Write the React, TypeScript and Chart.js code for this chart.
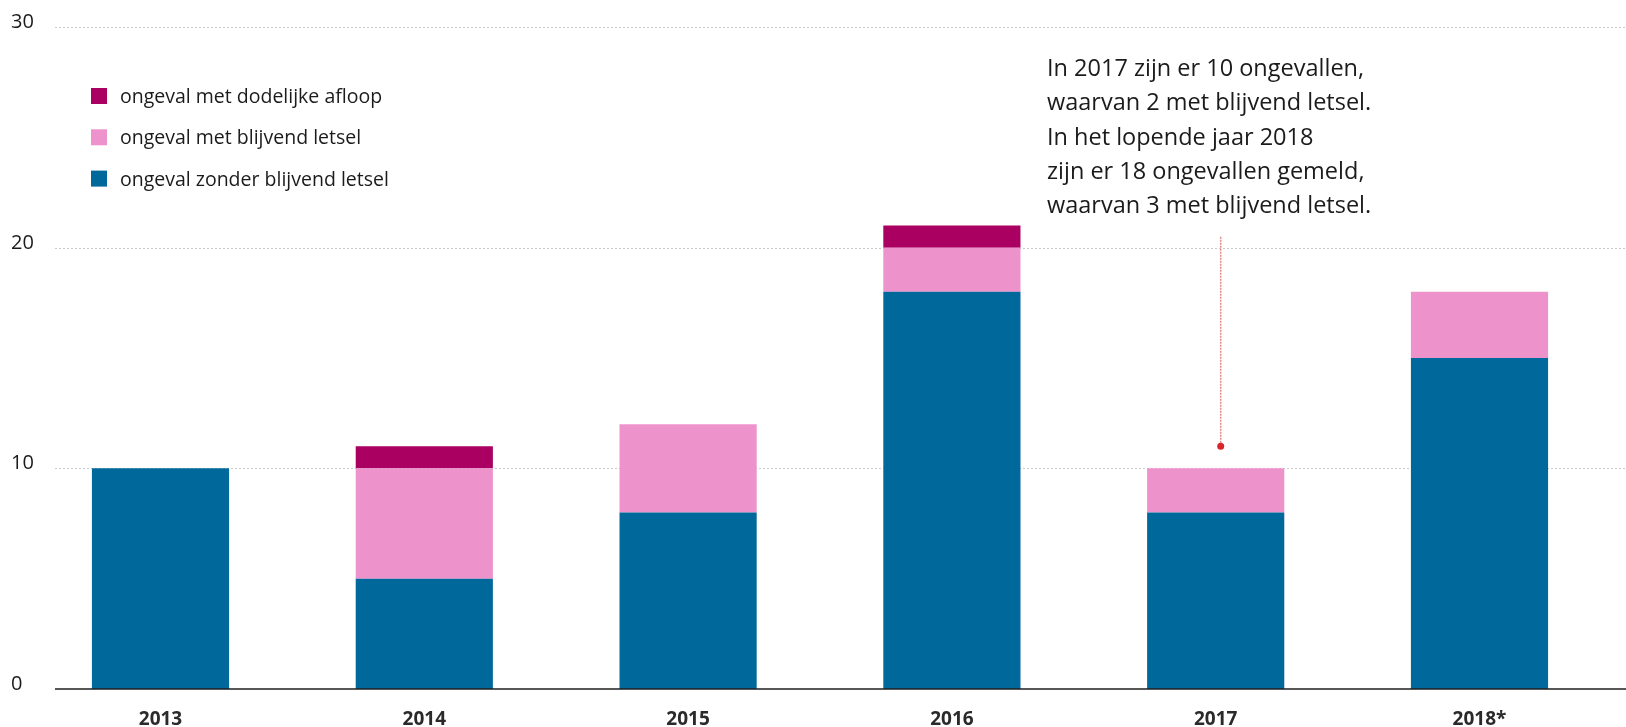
import { useEffect, useRef } from "react";
import { Chart, registerables } from "chart.js";

Chart.register(...registerables);

// ---- Data ----
const years = ["2013", "2014", "2015", "2016", "2017", "2018*"];
const zonderLetsel = [10, 5, 8, 18, 8, 15];
const blijvendLetsel = [0, 5, 4, 2, 2, 3];
const dodelijk = [0, 1, 0, 1, 0, 0];
const yTicks = [0, 10, 20, 30];
const seriesLabels = [
  "ongeval zonder blijvend letsel",
  "ongeval met blijvend letsel",
  "ongeval met dodelijke afloop",
];
const annotationLines = [
  "In 2017 zijn er 10 ongevallen,",
  "waarvan 2 met blijvend letsel.",
  "In het lopende jaar 2018",
  "zijn er 18 ongevallen gemeld,",
  "waarvan 3 met blijvend letsel.",
];
const annotationCategory = "2017";
const annotationFromValue = 11;
const annotationToValue = 20.5;

// ---- Styles ----
const BLUE = "#01689B";
const PINK = "#EE92CB";
const MAGENTA = "#A90061";
const FONT = "'Open Sans', 'Noto Sans', sans-serif";
const TEXT = "#1b1b1b";

const W = 1626;
const H = 727;

const drawPlugin = {
  id: "customDecor",
  beforeDatasetsDraw(chart: any) {
    const ctx = chart.ctx;
    const y = chart.scales.y;
    ctx.save();
    ctx.strokeStyle = "#c9c9c9";
    ctx.lineWidth = 1;
    ctx.setLineDash([2, 2]);
    for (const v of yTicks) {
      if (v === 0) continue;
      const py = Math.round(y.getPixelForValue(v)) + 0.5;
      ctx.beginPath();
      ctx.moveTo(55, py);
      ctx.lineTo(W, py);
      ctx.stroke();
    }
    ctx.restore();
  },
  afterDatasetsDraw(chart: any) {
    const ctx = chart.ctx;
    const x = chart.scales.x;
    const y = chart.scales.y;
    ctx.save();
    // baseline
    const by = y.getPixelForValue(0);
    ctx.strokeStyle = "#1e1e1e";
    ctx.lineWidth = 1.5;
    ctx.beginPath();
    ctx.moveTo(55, by);
    ctx.lineTo(W, by);
    ctx.stroke();

    // y labels
    ctx.fillStyle = TEXT;
    ctx.font = `20px ${FONT}`;
    ctx.textAlign = "left";
    ctx.textBaseline = "alphabetic";
    for (const v of yTicks) {
      ctx.fillText(String(v), 11, y.getPixelForValue(v) + 1);
    }

    // x labels
    ctx.font = `bold 19px ${FONT}`;
    ctx.fillStyle = "#2a2a2a";
    ctx.textAlign = "center";
    years.forEach((label, i) => {
      ctx.fillText(label, x.getPixelForValue(i), by + 36);
    });

    // legend
    const ds = chart.data.datasets;
    ctx.font = `19.5px ${FONT}`;
    ctx.textAlign = "left";
    ctx.fillStyle = TEXT;
    for (let k = 0; k < ds.length; k++) {
      const d = ds[ds.length - 1 - k];
      const top = 88 + k * 41.3;
      ctx.fillStyle = d.backgroundColor;
      ctx.fillRect(91, top, 16, 16);
      ctx.fillStyle = TEXT;
      ctx.fillText(d.label, 120, top + 15);
    }

    // annotation text
    ctx.font = `23.5px ${FONT}`;
    annotationLines.forEach((line, i) => {
      ctx.fillText(line, 1047, 76 + i * 34.3);
    });

    // annotation pointer
    const ai = years.indexOf(annotationCategory);
    const ax = x.getPixelForValue(ai) + 5;
    const yTop = y.getPixelForValue(annotationToValue);
    const yBot = y.getPixelForValue(annotationFromValue);
    ctx.strokeStyle = "#e58a8c";
    ctx.lineWidth = 1.5;
    ctx.setLineDash([2, 1]);
    ctx.beginPath();
    ctx.moveTo(ax, yTop);
    ctx.lineTo(ax, yBot);
    ctx.stroke();
    ctx.setLineDash([]);
    ctx.fillStyle = "#d9252c";
    ctx.beginPath();
    ctx.arc(ax, yBot, 3.5, 0, Math.PI * 2);
    ctx.fill();
    ctx.restore();
  },
};

export default function App() {
  const ref = useRef<HTMLCanvasElement | null>(null);

  useEffect(() => {
    if (!ref.current) return;
    const chart = new Chart(ref.current, {
      type: "bar",
      data: {
        labels: years,
        datasets: [
          { label: seriesLabels[0], data: zonderLetsel, backgroundColor: BLUE },
          { label: seriesLabels[1], data: blijvendLetsel, backgroundColor: PINK },
          { label: seriesLabels[2], data: dodelijk, backgroundColor: MAGENTA },
        ],
      },
      options: {
        responsive: false,
        animation: false,
        devicePixelRatio: 1,
        layout: { padding: { left: 28.6, right: 14.6, top: 27, bottom: 38 } },
        datasets: {
          bar: { barPercentage: 0.52, categoryPercentage: 1, borderWidth: 0 },
        },
        plugins: {
          legend: { display: false },
          tooltip: { enabled: false },
        },
        scales: {
          x: { stacked: true, display: false },
          y: { stacked: true, display: false, min: 0, max: 30 },
        },
      },
      plugins: [drawPlugin],
    });
    return () => chart.destroy();
  }, []);

  return (
    <div style={{ position: "fixed", left: 0, top: 0, width: W, height: H, background: "#fff" }}>
      <canvas ref={ref} width={W} height={H} style={{ display: "block", width: W, height: H }} />
    </div>
  );
}
